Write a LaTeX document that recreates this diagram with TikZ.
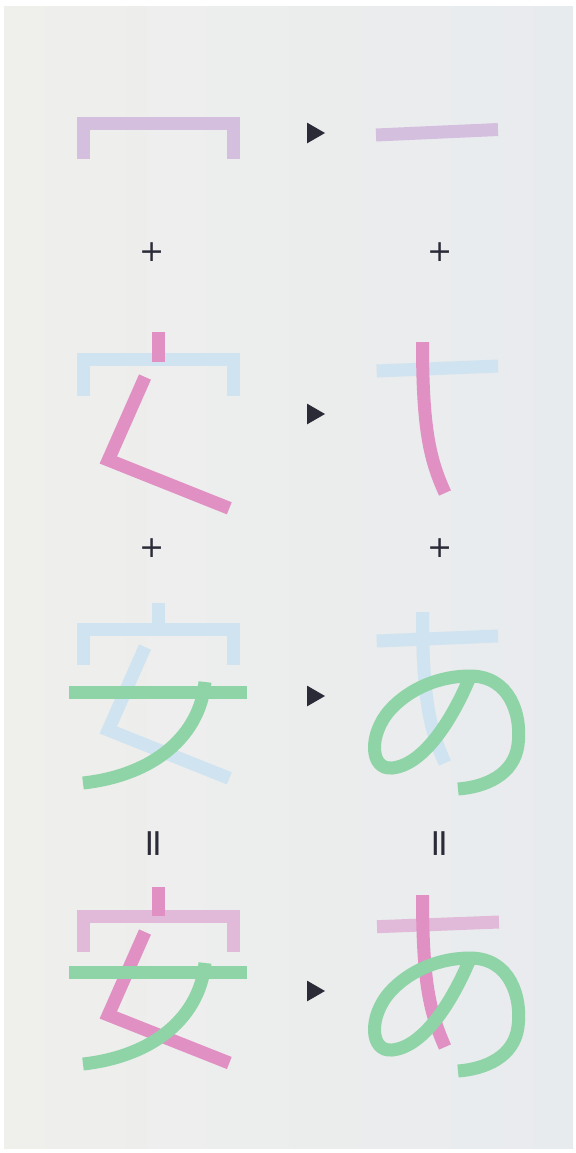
\documentclass[tikz,border=0pt]{standalone}
\usepackage{fontspec}
\newfontfamily\markfont{DejaVu Sans}
\usepackage{xcolor}
\usetikzlibrary{shapes.geometric}
\definecolor{lavender}{HTML}{D5BFDF}
\definecolor{skyblue}{HTML}{CFE3F0}
\definecolor{rosepink}{HTML}{E190C4}
\definecolor{blushpink}{HTML}{E2BAD9}
\definecolor{leafgreen}{HTML}{8ED4A6}
\definecolor{ink}{HTML}{2B2B38}
\definecolor{bgleft}{HTML}{EFEFEC}
\definecolor{bgright}{HTML}{E8EBEE}
\tikzset{
  brush/.style={line width=6.5pt,line cap=butt,line join=miter},
  lav/.style={brush,draw=lavender},
  sky/.style={brush,draw=skyblue},
  rose/.style={brush,draw=rosepink},
  blush/.style={brush,draw=blushpink},
  leaf/.style={brush,draw=leafgreen},
  sign/.style={font=\markfont\fontsize{15}{15}\selectfont,text=ink,inner sep=0pt},
  equal/.style={sign,font=\markfont\fontsize{19}{19}\selectfont,rotate=90},
  pointer/.style={isosceles triangle,isosceles triangle apex angle=60,fill=ink,inner sep=0pt,minimum size=9pt}
}
\begin{document}
\begin{tikzpicture}[x=0.5pt,y=-0.5pt]
\useasboundingbox (0,0) rectangle (576,1153);
\fill[white] (0,0) rectangle (576,1153);
\shade[left color=bgleft,right color=bgright] (4,6) rectangle (573,1148);
% row 1
\draw[lav] (83,159) -- (83,123) -- (233.5,123) -- (233.5,159);
\draw[lav] (376,135) -- (498,129.5);
\node[pointer] (tri1) at (313,133) {};
\node[sign] (plus1l) at (152,252) {+};
\node[sign] (plus1r) at (440,252) {+};
% row 2
\draw[sky] (83,396) -- (83,359.5) -- (233.5,359.5) -- (233.5,396);
\draw[rose] (158.3,332) -- (158.3,362);
\draw[rose] (145,377) -- (108.3,460) -- (229.3,508.3);
\draw[sky] (376.7,371) -- (498,366);
\draw[rose] (422.5,342) .. controls (422.5,430) and (430,460) .. (445,493);
\node[pointer] (tri2) at (313,414) {};
\node[sign] (plus2l) at (152,548) {+};
\node[sign] (plus2r) at (440,548) {+};
% row 3
\draw[sky] (158.3,602.5) -- (158.3,630);
\draw[sky] (83,665) -- (83,629.5) -- (233.5,629.5) -- (233.5,665);
\draw[sky] (145,647) -- (108.3,730) -- (229.3,778.3);
\draw[leaf] (69,692) -- (247,692);
\draw[leaf] (205,682) .. controls (200,735) and (155,775) .. (83,783);
\draw[sky] (376.7,641) -- (498,636);
\draw[sky] (422.5,612) .. controls (422.5,700) and (430,730) .. (445,763);
\draw[leaf] (472,672) .. controls (455,715) and (425,765) .. (392,768)
  .. controls (370,770) and (368,735) .. (390,710)
  .. controls (410,688) and (440,676) .. (470,676)
  .. controls (510,676) and (522,715) .. (518,745)
  .. controls (514,775) and (485,787) .. (458,789);
\node[pointer] (tri3) at (313,696) {};
\node[equal] (eq1l) at (156.5,844) {=};
\node[equal] (eq1r) at (443,844) {=};
% row 4
\draw[blush] (83,952) -- (83,916) -- (233.5,916) -- (233.5,952);
\draw[rose] (158.3,887) -- (158.3,916);
\draw[rose] (145,932) -- (108.3,1015) -- (229.3,1063);
\draw[leaf] (69,972.5) -- (247,972.5);
\draw[leaf] (205,963) .. controls (200,1016) and (155,1056) .. (83,1064);
\draw[blush] (377,926.7) -- (499,922);
\draw[rose] (422.5,895) .. controls (422.5,983) and (430,1013) .. (445,1047);
\draw[leaf] (472,954) .. controls (455,997) and (425,1047) .. (392,1050)
  .. controls (370,1052) and (368,1017) .. (390,992)
  .. controls (410,970) and (440,958) .. (470,958)
  .. controls (510,958) and (522,997) .. (518,1027)
  .. controls (514,1057) and (485,1069) .. (458,1071);
\node[pointer] (tri4) at (313,991) {};
\end{tikzpicture}
\end{document}
